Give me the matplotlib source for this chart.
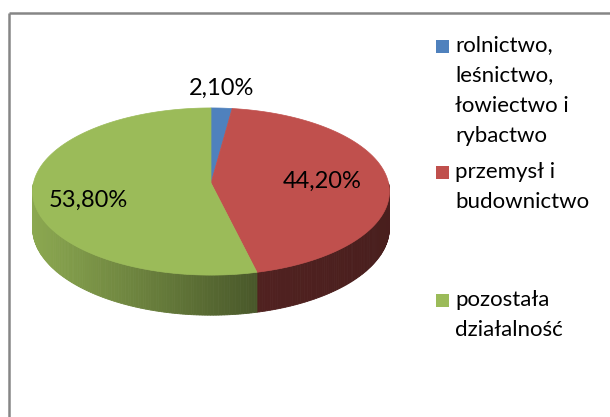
import numpy as np
import matplotlib
matplotlib.use("Agg")
import matplotlib.pyplot as plt
from matplotlib.patches import Polygon, Rectangle
from matplotlib.lines import Line2D
from matplotlib.colors import to_rgb

# ---- data ----
categories = ["rolnictwo,\nleśnictwo,\nłowiectwo i\nrybactwo",
              "przemysł i\nbudownictwo",
              "pozostała\ndziałalność"]
values = [2.1, 44.2, 53.8]
value_labels = ["2,10%", "44,20%", "53,80%"]
colors = ["#4F81BD", "#C0504D", "#9BBB59"]

plt.rcParams['font.family'] = ['Lato', 'DejaVu Sans']

W, H = 610, 417
fig = plt.figure(figsize=(W / 100, H / 100), dpi=100)
ax = fig.add_axes([0, 0, 1, 1])
ax.set_xlim(0, W)
ax.set_ylim(H, 0)
ax.axis('off')

# ---- pie geometry (layout) ----
cx, cy = 211.0, 183.0
rx, ry = 177.5, 82.7
k = 0.102
depth = 36.0


def proj(theta_deg, r=1.0, dz=0.0):
    t = np.radians(theta_deg)
    u = r * np.sin(t)
    v = r * np.cos(t)
    s = 1.0 / (1.0 + k * v)
    return cx + rx * u * s, cy - ry * v * s + dz * s


total = float(sum(values))
bounds = np.concatenate([[0.0], np.cumsum(values) / total * 360.0])

# side shading: horizontal gradient per slice (left factor, right factor)
side_shade = [(0.55, 0.45), (0.42, 0.38), (0.90, 0.47)]

# ---- side (front half only) ----
for i, col in enumerate(colors):
    a0, a1 = bounds[i], bounds[i + 1]
    lo, hi = max(a0, 90.0), min(a1, 270.0)
    if hi <= lo:
        continue
    n = max(2, int((hi - lo) / 0.8))
    th = np.linspace(lo, hi, n + 1)
    xs = [proj(t)[0] for t in th]
    xmin, xmax = min(xs), max(xs)
    base = np.array(to_rgb(col))
    fl, fr = side_shade[i]
    for j in range(n):
        ta, tb = th[j], th[j + 1]
        pa, pb = proj(ta), proj(tb)
        qa, qb = proj(ta, dz=depth), proj(tb, dz=depth)
        xm = 0.5 * (pa[0] + pb[0])
        frac = 0.0 if xmax == xmin else (xm - xmin) / (xmax - xmin)
        f = fl + (fr - fl) * frac
        c = np.clip(base * f, 0, 1)
        ax.add_patch(Polygon([pa, pb, qb, qa], closed=True, facecolor=c,
                             edgecolor=c, linewidth=0.6, zorder=2))

# ---- top face ----
for i, col in enumerate(colors):
    a0, a1 = bounds[i], bounds[i + 1]
    th = np.linspace(a0, a1, max(3, int((a1 - a0) / 0.5)))
    pts = [proj(0, r=0.0)] + [proj(t) for t in th]
    ax.add_patch(Polygon(pts, closed=True, facecolor=col, edgecolor=col,
                         linewidth=0.5, zorder=3))

# ---- data labels ----
label_pos = [(222, 88), (322, 181), (88, 200)]
for (lx, ly), txt in zip(label_pos, value_labels):
    ax.text(lx, ly, txt, fontsize=17, color='#000000', ha='center',
            va='center', zorder=5)

# ---- legend ----
legend_y = [46, 172, 300]
for y, col, lab in zip(legend_y, colors, categories):
    ax.add_patch(Rectangle((436, y - 6.5), 13, 13, facecolor=col,
                           edgecolor='none', zorder=5))
    ax.text(455, y - 10.5, lab, fontsize=16, color='#000000', ha='left',
            va='top', linespacing=1.63, zorder=5)

# ---- chart border (top and left visible) ----
ax.add_line(Line2D([8.5, W + 5], [12.5, 12.5], color='#868686', lw=1.8,
                   zorder=6, solid_capstyle='butt'))
ax.add_line(Line2D([8.5, 8.5], [12.5, H + 5], color='#868686', lw=1.8,
                   zorder=6, solid_capstyle='butt'))

fig.savefig("out.png", dpi=100)
